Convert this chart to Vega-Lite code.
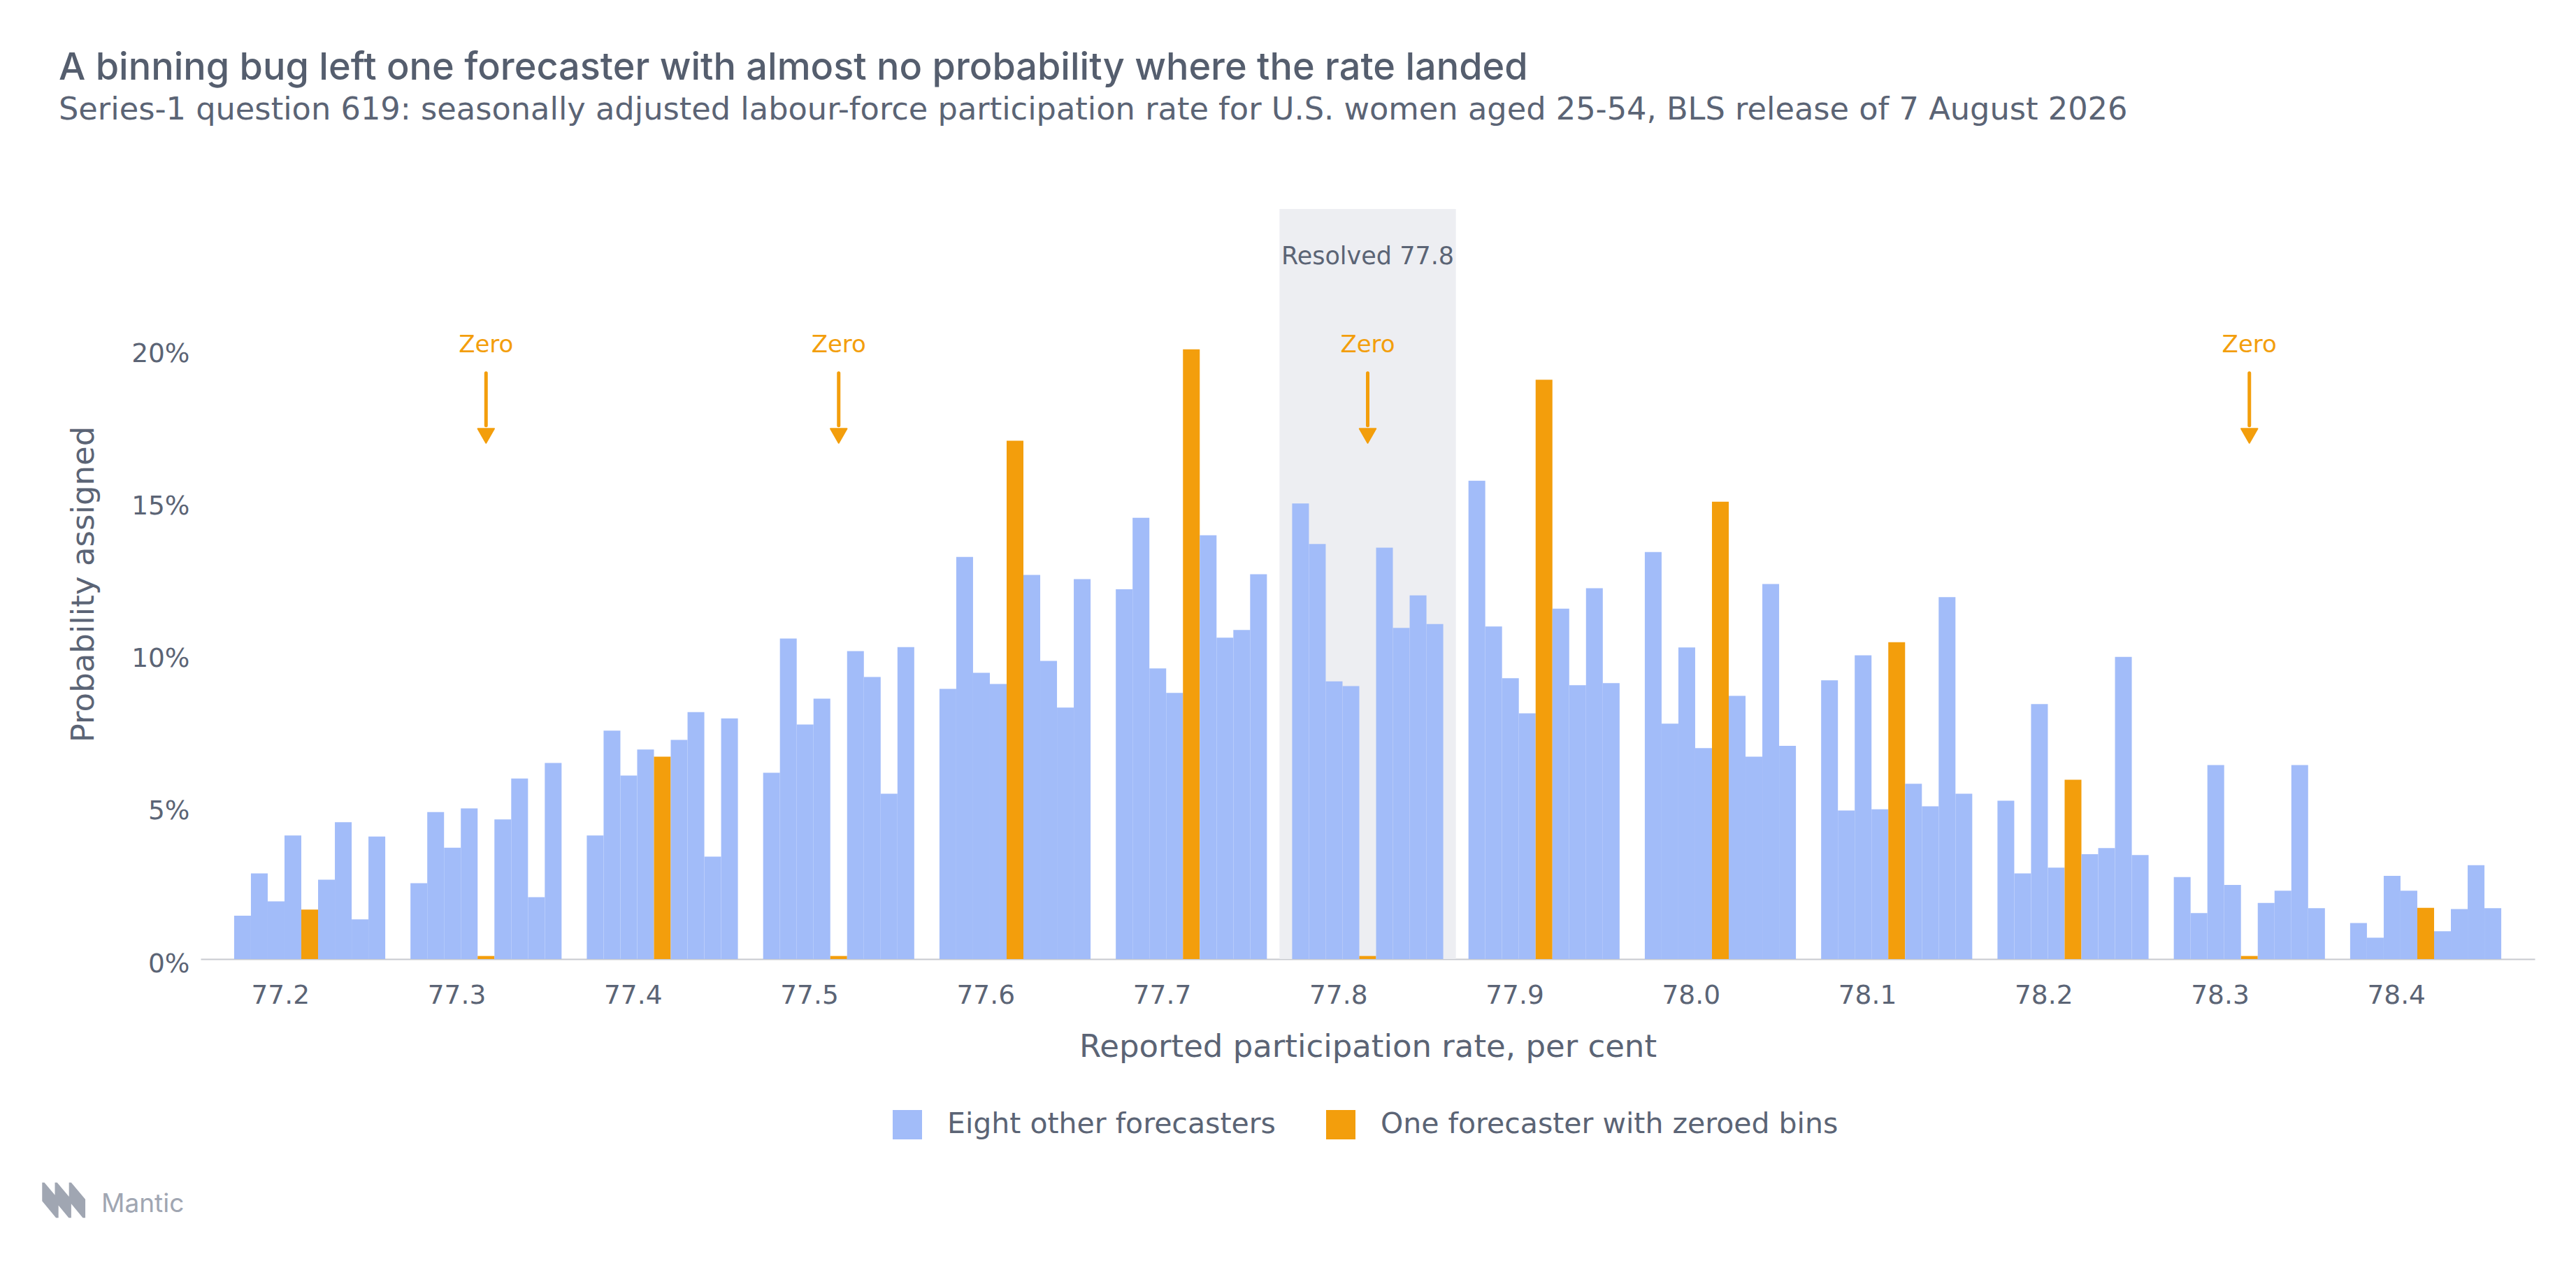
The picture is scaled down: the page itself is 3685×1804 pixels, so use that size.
{
  "$schema": "https://vega.github.io/schema/vega-lite/v6.json",
  "autosize": {"type": "none"},
  "width": 3339,
  "height": 1073,
  "padding": {"left": 287, "top": 299, "right": 59, "bottom": 432},
  "background": "white",
  "title": {
    "text": "A binning bug left one forecaster with almost no probability where the rate landed",
    "subtitle": "Series-1 question 619: seasonally adjusted labour-force participation rate for U.S. women aged 25-54, BLS release of 7 August 2026",
    "anchor": "start",
    "frame": "group",
    "dx": -203,
    "offset": 119,
    "font": "Inter",
    "fontSize": 54,
    "fontWeight": 500,
    "color": "#555e6e",
    "subtitleFont": "DejaVu Sans",
    "subtitleFontSize": 44.7,
    "subtitleColor": "#5b6475",
    "subtitlePadding": 11
  },
  "config": {
    "font": "DejaVu Sans",
    "view": {"stroke": null},
    "axis": {"grid": false, "ticks": false, "tickSize": 0, "labelColor": "#5b6475", "titleColor": "#5b6475", "labelFontSize": 37.5, "titleFontSize": 45, "titleFontWeight": "normal", "labelFont": "DejaVu Sans", "titleFont": "DejaVu Sans"},
    "legend": {"labelFont": "DejaVu Sans"}
  },
  "datasets": {
    "bars": [
      {"bin":"77.2","f":"F1","group":"Eight other forecasters","p":1.42},
      {"bin":"77.2","f":"F2","group":"Eight other forecasters","p":2.81},
      {"bin":"77.2","f":"F3","group":"Eight other forecasters","p":1.89},
      {"bin":"77.2","f":"F4","group":"Eight other forecasters","p":4.05},
      {"bin":"77.2","f":"F5","group":"One forecaster with zeroed bins","p":1.62},
      {"bin":"77.2","f":"F6","group":"Eight other forecasters","p":2.60},
      {"bin":"77.2","f":"F7","group":"Eight other forecasters","p":4.49},
      {"bin":"77.2","f":"F8","group":"Eight other forecasters","p":1.30},
      {"bin":"77.2","f":"F9","group":"Eight other forecasters","p":4.02},
      {"bin":"77.3","f":"F1","group":"Eight other forecasters","p":2.49},
      {"bin":"77.3","f":"F2","group":"Eight other forecasters","p":4.82},
      {"bin":"77.3","f":"F3","group":"Eight other forecasters","p":3.65},
      {"bin":"77.3","f":"F4","group":"Eight other forecasters","p":4.94},
      {"bin":"77.3","f":"F5","group":"One forecaster with zeroed bins","p":0.1},
      {"bin":"77.3","f":"F6","group":"Eight other forecasters","p":4.58},
      {"bin":"77.3","f":"F7","group":"Eight other forecasters","p":5.92},
      {"bin":"77.3","f":"F8","group":"Eight other forecasters","p":2.03},
      {"bin":"77.3","f":"F9","group":"Eight other forecasters","p":6.43},
      {"bin":"77.4","f":"F1","group":"Eight other forecasters","p":4.05},
      {"bin":"77.4","f":"F2","group":"Eight other forecasters","p":7.49},
      {"bin":"77.4","f":"F3","group":"Eight other forecasters","p":6.02},
      {"bin":"77.4","f":"F4","group":"Eight other forecasters","p":6.87},
      {"bin":"77.4","f":"F5","group":"One forecaster with zeroed bins","p":6.64},
      {"bin":"77.4","f":"F6","group":"Eight other forecasters","p":7.19},
      {"bin":"77.4","f":"F7","group":"Eight other forecasters","p":8.10},
      {"bin":"77.4","f":"F8","group":"Eight other forecasters","p":3.36},
      {"bin":"77.4","f":"F9","group":"Eight other forecasters","p":7.89},
      {"bin":"77.5","f":"F1","group":"Eight other forecasters","p":6.11},
      {"bin":"77.5","f":"F2","group":"Eight other forecasters","p":10.51},
      {"bin":"77.5","f":"F3","group":"Eight other forecasters","p":7.69},
      {"bin":"77.5","f":"F4","group":"Eight other forecasters","p":8.54},
      {"bin":"77.5","f":"F5","group":"One forecaster with zeroed bins","p":0.1},
      {"bin":"77.5","f":"F6","group":"Eight other forecasters","p":10.10},
      {"bin":"77.5","f":"F7","group":"Eight other forecasters","p":9.25},
      {"bin":"77.5","f":"F8","group":"Eight other forecasters","p":5.42},
      {"bin":"77.5","f":"F9","group":"Eight other forecasters","p":10.23},
      {"bin":"77.6","f":"F1","group":"Eight other forecasters","p":8.86},
      {"bin":"77.6","f":"F2","group":"Eight other forecasters","p":13.19},
      {"bin":"77.6","f":"F3","group":"Eight other forecasters","p":9.39},
      {"bin":"77.6","f":"F4","group":"Eight other forecasters","p":9.02},
      {"bin":"77.6","f":"F5","group":"One forecaster with zeroed bins","p":17.0},
      {"bin":"77.6","f":"F6","group":"Eight other forecasters","p":12.60},
      {"bin":"77.6","f":"F7","group":"Eight other forecasters","p":9.78},
      {"bin":"77.6","f":"F8","group":"Eight other forecasters","p":8.25},
      {"bin":"77.6","f":"F9","group":"Eight other forecasters","p":12.46},
      {"bin":"77.7","f":"F1","group":"Eight other forecasters","p":12.13},
      {"bin":"77.7","f":"F2","group":"Eight other forecasters","p":14.47},
      {"bin":"77.7","f":"F3","group":"Eight other forecasters","p":9.53},
      {"bin":"77.7","f":"F4","group":"Eight other forecasters","p":8.73},
      {"bin":"77.7","f":"F5","group":"One forecaster with zeroed bins","p":20.0},
      {"bin":"77.7","f":"F6","group":"Eight other forecasters","p":13.90},
      {"bin":"77.7","f":"F7","group":"Eight other forecasters","p":10.54},
      {"bin":"77.7","f":"F8","group":"Eight other forecasters","p":10.79},
      {"bin":"77.7","f":"F9","group":"Eight other forecasters","p":12.62},
      {"bin":"77.8","f":"F1","group":"Eight other forecasters","p":14.94},
      {"bin":"77.8","f":"F2","group":"Eight other forecasters","p":13.61},
      {"bin":"77.8","f":"F3","group":"Eight other forecasters","p":9.11},
      {"bin":"77.8","f":"F4","group":"Eight other forecasters","p":8.95},
      {"bin":"77.8","f":"F5","group":"One forecaster with zeroed bins","p":0.1},
      {"bin":"77.8","f":"F6","group":"Eight other forecasters","p":13.49},
      {"bin":"77.8","f":"F7","group":"Eight other forecasters","p":10.86},
      {"bin":"77.8","f":"F8","group":"Eight other forecasters","p":11.93},
      {"bin":"77.8","f":"F9","group":"Eight other forecasters","p":10.99},
      {"bin":"77.9","f":"F1","group":"Eight other forecasters","p":15.69},
      {"bin":"77.9","f":"F2","group":"Eight other forecasters","p":10.91},
      {"bin":"77.9","f":"F3","group":"Eight other forecasters","p":9.21},
      {"bin":"77.9","f":"F4","group":"Eight other forecasters","p":8.06},
      {"bin":"77.9","f":"F5","group":"One forecaster with zeroed bins","p":19.0},
      {"bin":"77.9","f":"F6","group":"Eight other forecasters","p":11.49},
      {"bin":"77.9","f":"F7","group":"Eight other forecasters","p":8.98},
      {"bin":"77.9","f":"F8","group":"Eight other forecasters","p":12.16},
      {"bin":"77.9","f":"F9","group":"Eight other forecasters","p":9.05},
      {"bin":"78.0","f":"F1","group":"Eight other forecasters","p":13.35},
      {"bin":"78.0","f":"F2","group":"Eight other forecasters","p":7.72},
      {"bin":"78.0","f":"F3","group":"Eight other forecasters","p":10.22},
      {"bin":"78.0","f":"F4","group":"Eight other forecasters","p":6.92},
      {"bin":"78.0","f":"F5","group":"One forecaster with zeroed bins","p":15.0},
      {"bin":"78.0","f":"F6","group":"Eight other forecasters","p":8.63},
      {"bin":"78.0","f":"F7","group":"Eight other forecasters","p":6.64},
      {"bin":"78.0","f":"F8","group":"Eight other forecasters","p":12.30},
      {"bin":"78.0","f":"F9","group":"Eight other forecasters","p":6.99},
      {"bin":"78.1","f":"F1","group":"Eight other forecasters","p":9.14},
      {"bin":"78.1","f":"F2","group":"Eight other forecasters","p":4.87},
      {"bin":"78.1","f":"F3","group":"Eight other forecasters","p":9.96},
      {"bin":"78.1","f":"F4","group":"Eight other forecasters","p":4.91},
      {"bin":"78.1","f":"F5","group":"One forecaster with zeroed bins","p":10.39},
      {"bin":"78.1","f":"F6","group":"Eight other forecasters","p":5.75},
      {"bin":"78.1","f":"F7","group":"Eight other forecasters","p":5.01},
      {"bin":"78.1","f":"F8","group":"Eight other forecasters","p":11.87},
      {"bin":"78.1","f":"F9","group":"Eight other forecasters","p":5.42},
      {"bin":"78.2","f":"F1","group":"Eight other forecasters","p":5.19},
      {"bin":"78.2","f":"F2","group":"Eight other forecasters","p":2.81},
      {"bin":"78.2","f":"F3","group":"Eight other forecasters","p":8.36},
      {"bin":"78.2","f":"F4","group":"Eight other forecasters","p":3.00},
      {"bin":"78.2","f":"F5","group":"One forecaster with zeroed bins","p":5.88},
      {"bin":"78.2","f":"F6","group":"Eight other forecasters","p":3.44},
      {"bin":"78.2","f":"F7","group":"Eight other forecasters","p":3.64},
      {"bin":"78.2","f":"F8","group":"Eight other forecasters","p":9.91},
      {"bin":"78.2","f":"F9","group":"Eight other forecasters","p":3.41},
      {"bin":"78.3","f":"F1","group":"Eight other forecasters","p":2.69},
      {"bin":"78.3","f":"F2","group":"Eight other forecasters","p":1.51},
      {"bin":"78.3","f":"F3","group":"Eight other forecasters","p":6.36},
      {"bin":"78.3","f":"F4","group":"Eight other forecasters","p":2.43},
      {"bin":"78.3","f":"F5","group":"One forecaster with zeroed bins","p":0.1},
      {"bin":"78.3","f":"F6","group":"Eight other forecasters","p":1.84},
      {"bin":"78.3","f":"F7","group":"Eight other forecasters","p":2.24},
      {"bin":"78.3","f":"F8","group":"Eight other forecasters","p":6.36},
      {"bin":"78.3","f":"F9","group":"Eight other forecasters","p":1.67},
      {"bin":"78.4","f":"F1","group":"Eight other forecasters","p":1.18},
      {"bin":"78.4","f":"F2","group":"Eight other forecasters","p":0.70},
      {"bin":"78.4","f":"F3","group":"Eight other forecasters","p":2.73},
      {"bin":"78.4","f":"F4","group":"Eight other forecasters","p":2.24},
      {"bin":"78.4","f":"F5","group":"One forecaster with zeroed bins","p":1.68},
      {"bin":"78.4","f":"F6","group":"Eight other forecasters","p":0.91},
      {"bin":"78.4","f":"F7","group":"Eight other forecasters","p":1.64},
      {"bin":"78.4","f":"F8","group":"Eight other forecasters","p":3.08},
      {"bin":"78.4","f":"F9","group":"Eight other forecasters","p":1.67}
    ],
    "zeros": [
      {"bin": "77.3", "label": "Zero"},
      {"bin": "77.5", "label": "Zero"},
      {"bin": "77.8", "label": "Zero"},
      {"bin": "78.3", "label": "Zero"}
    ],
    "resolved": [
      {"bin": "77.8", "label": "Resolved 77.8"}
    ],
    "brand": [
      {"name": "Mantic"}
    ]
  },
  "layer": [
    {
      "data": {"name": "resolved"},
      "mark": {"type": "bar", "color": "#edeef2", "width": {"band": 1.167}},
      "encoding": {
        "x": {"field": "bin", "type": "nominal"},
        "y": {"datum": 24.6, "type": "quantitative"},
        "y2": {"datum": 0}
      }
    },
    {
      "data": {"name": "resolved"},
      "mark": {"type": "text", "fontSize": 35, "font": "DejaVu Sans", "color": "#5b6475", "baseline": "middle"},
      "encoding": {
        "x": {"field": "bin", "type": "nominal"},
        "y": {"datum": 23.03, "type": "quantitative"},
        "text": {"field": "label"}
      }
    },
    {
      "data": {"name": "bars"},
      "mark": {"type": "bar"},
      "encoding": {
        "x": {
          "field": "bin", "type": "nominal", "sort": null,
          "scale": {"paddingInner": 0.143, "paddingOuter": 0.19},
          "axis": {"title": "Reported participation rate, per cent", "labelAngle": 0, "domainColor": "#c8cad0", "domainWidth": 2, "labelPadding": 52, "titlePadding": 33}
        },
        "xOffset": {"field": "f", "type": "nominal", "scale": {"paddingInner": 0, "paddingOuter": 0}},
        "y": {
          "field": "p", "type": "quantitative",
          "scale": {"domain": [0, 24.6], "nice": false, "zero": true},
          "axis": {"title": "Probability assigned", "values": [0, 5, 10, 15, 20], "labelExpr": "datum.value + '%'", "domain": false, "labelPadding": 16, "labelOffset": 7, "titlePadding": 45}
        },
        "color": {
          "field": "group", "type": "nominal",
          "scale": {"domain": ["Eight other forecasters", "One forecaster with zeroed bins"], "range": ["#a2bcf9", "#f39e0c"]},
          "legend": {
            "title": null, "orient": "none", "direction": "horizontal", "legendX": 990, "legendY": 1289,
            "symbolType": "square", "symbolSize": 1764, "symbolStrokeWidth": 0, "symbolOpacity": 1,
            "labelFontSize": 41, "labelColor": "#5b6475", "labelOffset": 36, "columnPadding": 72, "labelLimit": 1000
          }
        }
      }
    },
    {
      "data": {"name": "zeros"},
      "mark": {"type": "text", "fontSize": 34, "font": "DejaVu Sans", "color": "#f39e0c", "baseline": "middle"},
      "encoding": {
        "x": {"field": "bin", "type": "nominal"},
        "y": {"datum": 20.14, "type": "quantitative"},
        "text": {"field": "label"}
      }
    },
    {
      "data": {"name": "zeros"},
      "mark": {"type": "rule", "color": "#f39e0c", "strokeWidth": 5, "strokeCap": "round"},
      "encoding": {
        "x": {"field": "bin", "type": "nominal"},
        "y": {"datum": 19.22, "type": "quantitative"},
        "y2": {"datum": 17.5}
      }
    },
    {
      "data": {"name": "zeros"},
      "mark": {"type": "point", "shape": "triangle-down", "filled": true, "opacity": 1, "color": "#f39e0c", "size": 550, "strokeWidth": 2, "stroke": "#f39e0c", "strokeJoin": "round"},
      "encoding": {
        "x": {"field": "bin", "type": "nominal"},
        "y": {"datum": 17.16, "type": "quantitative"}
      }
    },
    {
      "data": {"name": "brand"},
      "mark": {"type": "point", "shape": "M-0.96,-0.79L-0.86,-0.79L-0.23,-0.04L-0.23,0.79L-0.34,0.79L-0.96,0.04ZM-0.39,-0.79L-0.29,-0.79L0.34,-0.04L0.34,0.79L0.23,0.79L-0.39,0.04ZM0.24,-0.79L0.34,-0.79L0.97,-0.04L0.97,0.79L0.86,0.79L0.24,0.04Z", "filled": true, "opacity": 1, "color": "#a0a6b2", "strokeWidth": 0, "size": 4096, "x": -196, "y": 1418},
      "encoding": {}
    },
    {
      "data": {"name": "brand"},
      "mark": {"type": "text", "fontSize": 37, "font": "Inter", "color": "#a0a6b2", "align": "left", "baseline": "alphabetic", "x": -142, "y": 1435},
      "encoding": {"text": {"field": "name"}}
    }
  ]
}
